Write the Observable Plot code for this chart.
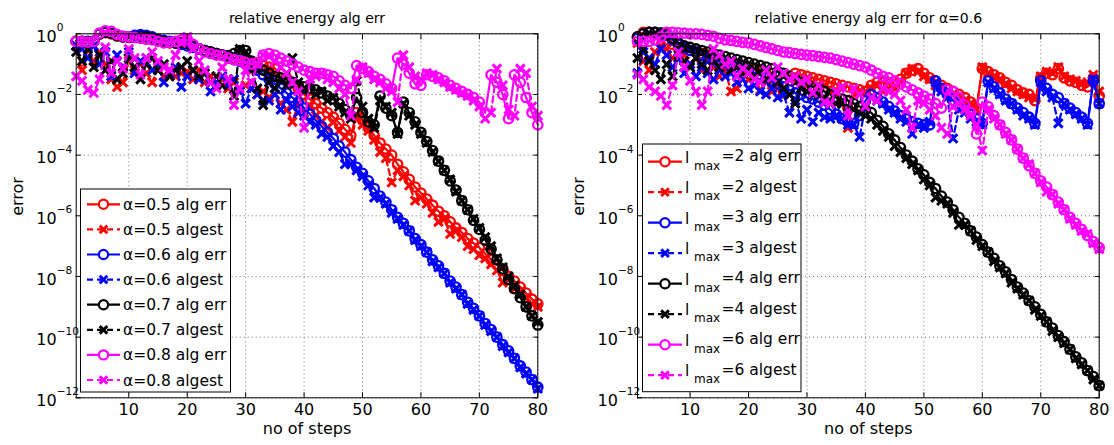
<!DOCTYPE html>
<html><head><meta charset="utf-8">
<script src="https://cdn.jsdelivr.net/npm/d3@7"></script>
<script src="https://cdn.jsdelivr.net/npm/@observablehq/plot@0.6"></script>
<style>
body{margin:0;background:#fff;}
#wrap{display:flex;width:1114px;height:445px;overflow:hidden;}
</style></head><body><div id="wrap"></div>
<script>
// x: step number 1..80 ; y values stored as log10(error)
const steps = d3.range(1, 81);
const xTicks = [10,20,30,40,50,60,70,80];
const yTickExps = [0,-2,-4,-6,-8,-10,-12];

// ---------- left panel: alpha = 0.5 .. 0.8 ----------
const leftLabels = ["α=0.5 alg err","α=0.5 algest","α=0.6 alg err","α=0.6 algest","α=0.7 alg err","α=0.7 algest","α=0.8 alg err","α=0.8 algest"];
const L_err05 = [-0.25,-0.25,-0.27,-0.26,0.0,0.05,0.0,-0.08,-0.1,-0.12,
 -0.1,-0.1,-0.08,-0.15,-0.2,-0.25,-0.3,-0.3,-0.28,-0.3,
 -0.4,-0.5,-0.55,-0.6,-0.65,-0.7,-0.75,-0.8,-0.85,-0.9,
 -0.95,-1.0,-1.05,-1.1,-1.15,-1.3,-1.45,-1.6,-1.8,-2.0,
 -2.15,-2.3,-2.45,-2.6,-2.75,-2.95,-3.15,-3.35,-2.6,-2.85,
 -3.1,-3.35,-3.6,-3.8,-4.0,-4.3,-4.55,-4.8,-5.05,-5.25,
 -5.45,-5.65,-5.85,-6.0,-6.2,-6.4,-6.55,-6.75,-6.9,-7.05,
 -7.25,-7.45,-7.6,-7.8,-8.0,-8.15,-8.35,-8.55,-8.75,-8.9];
const L_est05 = [-0.4,-1.2,-0.5,-0.9,-0.6,-1.0,-1.5,-1.75,-1.6,-0.9,
 -1.2,-1.0,-1.3,-1.6,-1.1,-1.4,-1.2,-1.4,-1.3,-1.25,
 -1.5,-1.2,-1.6,-1.4,-1.7,-1.5,-1.8,-1.6,-1.9,-1.7,
 -1.8,-2.0,-1.9,-2.1,-2.0,-2.3,-2.5,-2.9,-2.3,-2.6,
 -2.4,-2.7,-2.9,-3.1,-2.9,-3.2,-3.4,-3.6,-2.7,-3.0,
 -3.2,-3.5,-3.9,-4.1,-4.9,-4.5,-4.7,-5.0,-5.5,-5.4,
 -5.6,-5.9,-6.2,-6.1,-6.6,-6.5,-6.7,-7.0,-7.1,-7.3,
 -7.4,-7.6,-7.8,-8.2,-8.1,-8.4,-8.5,-8.7,-8.9,-9.0];
const L_err06 = [-0.25,-0.26,-0.25,-0.24,0.0,0.05,0.03,-0.05,-0.08,-0.1,
 -0.05,-0.03,-0.05,-0.1,-0.18,-0.22,-0.25,-0.3,-0.35,-0.4,
 -0.45,-0.5,-0.55,-0.6,-0.65,-0.7,-0.75,-0.85,-0.9,-1.0,
 -1.1,-1.2,-1.35,-1.5,-1.65,-1.8,-1.95,-2.1,-2.25,-2.45,
 -2.65,-2.85,-3.05,-3.25,-3.45,-3.7,-3.9,-4.15,-4.4,-4.6,
 -4.85,-5.1,-5.35,-5.55,-5.8,-6.05,-6.25,-6.5,-6.75,-6.95,
 -7.2,-7.45,-7.65,-7.9,-8.15,-8.35,-8.6,-8.85,-9.05,-9.3,
 -9.55,-9.75,-10.0,-10.25,-10.45,-10.7,-10.95,-11.15,-11.4,-11.65];
const L_est06 = [-0.4,-0.5,-0.8,-0.4,-1.0,-0.6,-1.4,-0.7,-1.1,-0.6,
 -1.3,-0.9,-0.8,-1.2,-1.0,-1.6,-1.3,-1.1,-1.75,-1.4,
 -1.2,-1.5,-1.3,-1.9,-1.6,-1.4,-1.7,-1.5,-1.9,-2.3,
 -1.8,-2.0,-2.2,-2.2,-2.0,-2.5,-2.2,-2.4,-2.6,-2.7,
 -2.9,-3.0,-3.3,-3.4,-3.7,-3.9,-4.3,-4.3,-4.5,-4.7,
 -5.0,-5.4,-5.4,-5.6,-5.9,-6.1,-6.3,-6.5,-6.8,-7.0,
 -7.2,-7.5,-7.7,-7.9,-8.2,-8.4,-8.6,-8.9,-9.1,-9.3,
 -9.6,-9.8,-10.0,-10.3,-10.5,-10.7,-11.0,-11.2,-11.4,-11.7];
const L_err07 = [-0.25,-0.25,-0.26,-0.25,0.0,0.05,0.02,-0.05,-0.1,-0.12,
 -0.12,-0.1,-0.1,-0.15,-0.2,-0.25,-0.28,-0.3,-0.3,-0.32,
 -0.4,-0.5,-0.55,-0.6,-0.65,-0.7,-0.72,-0.65,-0.55,-0.55,
 -0.9,-1.1,-1.2,-1.3,-1.4,-1.45,-1.5,-1.6,-1.7,-1.75,
 -1.8,-1.85,-1.95,-2.05,-2.15,-2.3,-2.5,-2.7,-2.1,-2.6,
 -2.9,-3.0,-2.05,-2.45,-2.7,-3.25,-2.25,-2.6,-2.9,-3.25,
 -3.55,-3.85,-4.2,-4.5,-4.85,-5.15,-5.5,-5.8,-6.15,-6.45,
 -6.8,-7.1,-7.45,-7.75,-8.1,-8.4,-8.7,-9.0,-9.3,-9.6];
const L_est07 = [-0.6,-0.9,-0.5,-1.1,-0.7,-1.2,-0.9,-1.5,-1.3,-0.8,
 -1.1,-1.5,-1.0,-0.8,-1.2,-1.0,-1.4,-1.2,-1.1,-0.9,
 -1.2,-1.4,-1.3,-1.6,-1.4,-1.7,-1.5,-2.05,-0.5,-0.6,
 -1.2,-1.8,-2.35,-1.6,-1.8,-1.5,-1.7,-0.8,-1.6,-1.9,
 -1.7,-2.0,-1.9,-2.2,-2.1,-2.4,-2.6,-2.8,-1.55,-2.4,
 -2.8,-3.1,-2.2,-2.4,-2.6,-3.3,-2.3,-2.7,-3.0,-3.3,
 -3.6,-3.9,-4.2,-4.5,-4.8,-5.2,-5.5,-5.8,-6.1,-6.4,
 -6.7,-7.0,-7.4,-7.7,-8.0,-8.3,-8.6,-9.0,-9.3,-9.5];
const L_err08 = [-0.25,-0.26,-0.27,-0.25,0.02,0.1,0.08,-0.02,-0.08,-0.1,
 -0.12,-0.15,-0.18,-0.2,-0.25,-0.3,-0.28,-0.25,-0.2,-0.18,
 -0.35,-0.5,-0.6,-0.65,-0.7,-0.72,-0.8,-0.85,-0.88,-0.95,
 -1.0,-0.95,-0.7,-0.65,-0.7,-0.8,-0.9,-1.0,-1.1,-1.2,
 -1.25,-1.3,-1.3,-1.35,-1.4,-1.55,-1.7,-1.8,-1.05,-1.15,
 -1.25,-1.4,-1.5,-1.65,-1.8,-0.8,-1.0,-1.3,-1.65,-1.7,
 -1.35,-1.4,-1.45,-1.55,-1.7,-1.8,-1.9,-2.0,-2.1,-2.25,
 -2.6,-1.35,-1.6,-2.0,-2.8,-1.35,-1.6,-2.1,-2.6,-3.0];
const L_est08 = [-1.4,-1.55,-1.85,-1.95,-1.5,-0.45,-1.3,-0.9,-1.15,-0.5,
 -0.8,-1.35,-0.8,-0.6,-0.9,-1.1,-1.2,-0.7,-0.3,-0.1,
 -0.5,-0.9,-1.2,-1.6,-1.8,-1.1,-1.5,-2.35,-1.8,-1.2,
 -1.6,-1.0,-0.7,-0.75,-0.9,-1.1,-1.3,-1.6,-1.9,-3.1,
 -1.5,-1.4,-1.3,-1.5,-1.6,-1.8,-2.0,-2.7,-1.5,-1.1,
 -1.3,-1.5,-1.6,-1.8,-1.9,-2.25,-0.7,-1.1,-1.4,-1.5,
 -1.3,-1.35,-1.5,-1.6,-1.75,-1.85,-1.95,-2.05,-2.2,-2.4,
 -2.8,-2.6,-1.15,-1.7,-2.5,-2.7,-1.15,-1.3,-2.4,-2.7];

// ---------- right panel: alpha = 0.6, l_max = 2,3,4,6 ----------
const rightLevels = ["2","2","3","3","4","4","6","6"];
const rightKinds = ["alg err","algest","alg err","algest","alg err","algest","alg err","algest"];
const R_err2 = [-0.1,0.05,0.05,0.03,-0.05,-0.2,-0.35,-0.45,-0.5,-0.55,
 -0.6,-0.65,-0.7,-0.8,-0.85,-0.9,-0.95,-1.0,-1.05,-1.1,
 -1.15,-1.2,-1.3,-1.45,-1.7,-1.95,-1.4,-1.3,-1.35,-1.4,
 -1.45,-1.5,-1.55,-1.6,-1.65,-1.7,-1.75,-1.8,-1.85,-1.9,
 -1.7,-1.6,-1.6,-1.65,-1.7,-1.5,-1.3,-1.2,-1.15,-1.3,
 -1.45,-1.55,-1.7,-1.8,-1.9,-2.0,-2.1,-2.25,-2.45,-1.15,
 -1.25,-1.35,-1.45,-1.6,-1.7,-1.85,-1.95,-2.0,-2.2,-1.45,
 -1.3,-1.35,-1.15,-1.45,-1.55,-1.6,-1.7,-1.75,-1.45,-2.05];
const R_est2 = [-0.3,-0.9,-1.2,-0.6,-0.4,-0.5,-0.8,-0.6,-0.7,-1.0,
 -0.8,-1.2,-0.9,-1.1,-1.4,-1.2,-1.9,-1.8,-1.3,-1.5,
 -1.4,-1.85,-1.6,-1.9,-1.8,-2.0,-1.5,-1.6,-1.5,-1.7,
 -1.6,-1.8,-1.7,-1.9,-2.0,-2.3,-3.1,-2.0,-1.9,-2.0,
 -1.8,-1.7,-1.9,-1.8,-1.75,-1.6,-1.3,-1.15,-1.25,-1.4,
 -1.5,-1.7,-1.75,-1.9,-2.0,-2.1,-2.2,-2.3,-2.5,-1.1,
 -1.3,-1.4,-1.5,-1.65,-1.8,-1.9,-2.0,-2.1,-2.15,-1.4,
 -1.25,-1.3,-1.1,-1.4,-1.5,-1.55,-1.65,-1.6,-1.35,-1.9];
const R_err3 = [-0.15,0.0,0.05,0.05,0.0,-0.05,-0.2,-0.35,-0.45,-0.55,
 -0.6,-0.7,-0.8,-0.85,-0.9,-0.95,-1.0,-1.1,-1.15,-1.2,
 -1.3,-1.35,-1.45,-1.55,-1.65,-1.75,-1.85,-1.95,-2.0,-2.1,
 -2.15,-2.25,-2.35,-2.5,-2.65,-2.8,-2.9,-2.95,-2.7,-2.2,
 -2.0,-2.1,-2.25,-2.4,-2.55,-2.7,-2.8,-2.9,-2.95,-3.0,
 -3.0,-1.55,-1.8,-2.0,-2.2,-2.35,-2.5,-2.65,-2.8,-2.95,
 -1.55,-1.75,-1.95,-2.15,-2.3,-2.45,-2.6,-2.75,-2.95,-1.55,
 -1.8,-2.0,-2.1,-2.3,-2.45,-2.6,-2.75,-2.95,-1.55,-2.3];
const R_est3 = [-1.3,-0.6,-0.8,-1.0,-0.5,-0.7,-1.1,-0.8,-1.3,-1.0,
 -1.4,-1.1,-1.3,-1.5,-1.2,-1.4,-1.3,-1.6,-1.5,-1.8,
 -1.7,-1.9,-2.0,-1.8,-2.1,-2.0,-2.6,-2.2,-2.8,-2.5,
 -2.9,-2.6,-2.75,-2.8,-2.7,-2.8,-3.0,-3.0,-3.4,-2.4,
 -2.1,-2.2,-2.3,-2.5,-2.6,-2.8,-2.9,-3.3,-3.0,-3.1,
 -2.9,-1.6,-1.9,-2.1,-3.45,-2.5,-2.6,-2.8,-2.9,-3.0,
 -1.6,-1.8,-2.0,-2.2,-2.3,-2.5,-2.7,-2.8,-3.0,-1.6,
 -1.9,-2.1,-2.95,-2.3,-2.5,-2.65,-2.8,-3.0,-1.5,-2.3];
const R_err4 = [-0.1,0.0,0.05,0.05,0.03,0.0,-0.15,-0.3,-0.4,-0.45,
 -0.5,-0.55,-0.6,-0.65,-0.7,-0.75,-0.8,-0.85,-0.9,-0.95,
 -1.0,-1.05,-1.1,-1.15,-1.25,-1.3,-1.4,-1.5,-1.6,-1.7,
 -1.75,-1.8,-1.9,-2.0,-2.1,-2.15,-2.2,-2.3,-2.4,-2.5,
 -2.6,-2.85,-3.05,-3.3,-3.5,-3.75,-4.0,-4.2,-4.45,-4.65,
 -4.9,-5.1,-5.35,-5.55,-5.8,-6.05,-6.25,-6.5,-6.7,-6.95,
 -7.2,-7.4,-7.65,-7.85,-8.1,-8.35,-8.55,-8.8,-9.0,-9.25,
 -9.5,-9.7,-9.95,-10.15,-10.4,-10.65,-10.85,-11.1,-11.3,-11.6];
const R_est4 = [-0.8,-0.5,-0.9,-1.2,-1.5,-1.0,-1.4,-0.7,-0.9,-1.1,
 -0.8,-1.0,-1.2,-0.9,-1.1,-1.0,-1.2,-1.1,-1.3,-1.2,
 -1.4,-1.3,-1.5,-1.4,-1.6,-1.8,-2.0,-2.3,-1.8,-1.9,
 -2.0,-2.0,-2.1,-2.2,-2.3,-2.3,-2.4,-2.5,-2.6,-2.7,
 -2.8,-3.0,-3.2,-3.4,-3.7,-3.9,-4.1,-4.3,-4.5,-4.8,
 -5.0,-5.4,-5.5,-5.6,-5.9,-6.3,-6.3,-6.5,-6.8,-7.0,
 -7.2,-7.5,-7.7,-7.9,-8.2,-8.4,-8.6,-8.8,-9.1,-9.3,
 -9.5,-9.8,-10.0,-10.2,-10.4,-10.7,-10.9,-11.1,-11.4,-11.6];
const R_err6 = [-0.25,-0.25,-0.25,-0.2,-0.1,0.05,0.05,0.03,0.02,0.0,
 0.0,-0.02,-0.05,-0.08,-0.15,-0.2,-0.22,-0.25,-0.28,-0.3,
 -0.35,-0.4,-0.45,-0.5,-0.55,-0.6,-0.62,-0.65,-0.68,-0.7,
 -0.72,-0.75,-0.78,-0.8,-0.85,-0.9,-0.95,-1.0,-1.05,-1.1,
 -1.2,-1.3,-1.4,-1.45,-1.55,-1.65,-1.75,-1.85,-1.95,-2.05,
 -2.15,-2.3,-2.45,-1.85,-1.9,-2.1,-2.35,-2.6,-3.3,-2.25,
 -2.4,-2.7,-3.0,-3.25,-3.5,-3.8,-4.1,-4.35,-4.6,-4.85,
 -5.05,-5.3,-5.55,-5.8,-6.05,-6.25,-6.45,-6.65,-6.85,-7.05];
const R_est6 = [-1.35,-1.5,-1.75,-1.9,-2.05,-2.35,-1.7,-0.6,-1.1,-1.55,
 -1.9,-2.35,-1.9,-0.5,-0.7,-1.0,-0.9,-1.4,-1.15,-1.3,
 -1.5,-1.6,-1.2,-1.45,-1.1,-1.3,-1.5,-1.4,-1.6,-1.5,
 -1.95,-1.7,-2.25,-2.3,-1.9,-1.75,-2.7,-1.8,-2.0,-2.4,
 -2.1,-2.2,-1.8,-1.9,-2.0,-2.2,-2.5,-3.1,-2.2,-2.3,
 -2.5,-2.7,-3.1,-3.3,-2.4,-2.3,-2.5,-2.7,-3.0,-3.85,
 -2.5,-2.8,-3.0,-3.3,-3.5,-3.8,-4.1,-4.3,-4.6,-4.9,
 -5.2,-5.3,-5.6,-5.8,-6.1,-6.3,-6.5,-6.6,-6.9,-7.1];

const seriesColors = ["#ff0000","#ff0000","#0000ff","#0000ff","#000000","#000000","#ff00ff","#ff00ff"];
const FONT = "DejaVu Sans";

function panel(cfg) {
  const yTickVals = yTickExps.map(e => Math.pow(10, e));
  const marks = [
    Plot.gridX(xTicks, {stroke: "#000", strokeOpacity: 0.55, strokeDasharray: "1,3"}),
    Plot.gridY(yTickVals, {stroke: "#000", strokeOpacity: 0.55, strokeDasharray: "1,3"})
  ];
  cfg.values.forEach((vals, k) => {
    const dashed = k % 2 === 1;
    const rows = vals.map((v, i) => ({step: steps[i], err: Math.pow(10, v)}));
    marks.push(Plot.line(rows, {x: "step", y: "err", stroke: seriesColors[k], strokeWidth: 2.2,
      strokeDasharray: dashed ? "6,4" : undefined}));
    marks.push(Plot.dot(rows, {x: "step", y: "err", stroke: seriesColors[k], fill: "none",
      symbol: dashed ? "times" : "circle", r: dashed ? 4.0 : 4.7, strokeWidth: dashed ? 3 : 2.3}));
  });
  marks.push(
    Plot.frame({stroke: "#000", strokeWidth: 1}),
    Plot.axisX(xTicks, {anchor: "bottom", tickSize: -5, tickPadding: 11, fontSize: 16, label: null}),
    Plot.axisX(xTicks, {anchor: "top", tickSize: -5, tickFormat: () => "", label: null}),
    Plot.axisY(yTickVals, {anchor: "left", tickSize: -5, tickFormat: () => "", label: null}),
    Plot.axisY(yTickVals, {anchor: "right", tickSize: -5, tickFormat: () => "", label: null}),
    Plot.text(yTickExps, {y: e => Math.pow(10, e), text: () => "10", frameAnchor: "left",
      textAnchor: "start", dx: cfg.tickDx, dy: 3, fontSize: 16}),
    Plot.text(yTickExps, {y: e => Math.pow(10, e), text: e => e === 0 ? "0" : "−" + (-e), frameAnchor: "left",
      textAnchor: "start", dx: cfg.tickDx + 20.5, dy: -6, fontSize: 10.5}),
    Plot.text([cfg.title], {frameAnchor: "top", dy: -21, fontSize: 14}),
    Plot.text(["no of steps"], {frameAnchor: "bottom", dy: 36, fontSize: 16}),
    Plot.text(["error"], {frameAnchor: "left", dx: cfg.ylabDx, rotate: -90, fontSize: 16})
  );
  return Plot.plot({
    width: 557, height: 445,
    marginLeft: cfg.ml, marginRight: cfg.mr, marginTop: 33.3, marginBottom: 47.7,
    x: {domain: [1, 80]},
    y: {type: "log", domain: [1e-12, 1]},
    style: {fontFamily: FONT, background: "#fff", overflow: "visible", color: "#000"},
    marks
  });
}

function addLegend(svg, L) {
  const g = d3.select(svg).append("g").attr("font-family", FONT).attr("text-anchor", "start").attr("fill", "#000");
  g.append("rect").attr("x", L.x).attr("y", L.y).attr("width", L.w).attr("height", L.h)
    .attr("fill", "#fff").attr("stroke", "#000").attr("stroke-width", 1);
  for (let k = 0; k < 8; k++) {
    const dashed = k % 2 === 1;
    const yy = L.y0 + k * L.dy;
    const c = seriesColors[k];
    g.append("line").attr("x1", L.sx1).attr("x2", L.sx2).attr("y1", yy).attr("y2", yy)
      .attr("stroke", c).attr("stroke-width", 2.2).attr("stroke-dasharray", dashed ? "6,4" : null);
    const mx = (L.sx1 + L.sx2) / 2;
    if (dashed) {
      g.append("path").attr("d", `M${mx-3.8},${yy-3.8}L${mx+3.8},${yy+3.8}M${mx-3.8},${yy+3.8}L${mx+3.8},${yy-3.8}`)
        .attr("stroke", c).attr("stroke-width", 3).attr("fill", "none");
    } else {
      g.append("circle").attr("cx", mx).attr("cy", yy).attr("r", 4.6).attr("fill", "#fff")
        .attr("stroke", c).attr("stroke-width", 2.2);
    }
    L.text(g, k, yy);
  }
}

const wrap = document.getElementById("wrap");

const left = panel({title: "relative energy alg err", values: [L_err05, L_est05, L_err06, L_est06, L_err07, L_est07, L_err08, L_est08],
  ml: 75.7, mr: 19.7, tickDx: -40, ylabDx: -58.7});
addLegend(left, {x: 80.5, y: 189, w: 150, h: 203, y0: 204.3, dy: 25.1, sx1: 87, sx2: 120,
  text: (g, k, yy) => g.append("text").attr("x", 123).attr("y", yy).attr("dy", "0.36em")
    .attr("font-size", 15.5).text(leftLabels[k])});
wrap.appendChild(left);

const right = panel({title: "relative energy alg err for α=0.6", values: [R_err2, R_est2, R_err3, R_est3, R_err4, R_est4, R_err6, R_est6],
  ml: 80, mr: 15.3, tickDx: -40, ylabDx: -59});
addLegend(right, {x: 85.5, y: 144, w: 158.5, h: 247.7, y0: 161.7, dy: 30.5, sx1: 91, sx2: 125,
  text: (g, k, yy) => {
    g.append("text").attr("x", 128).attr("y", yy + 1).attr("font-size", 15.5).text("l");
    g.append("text").attr("x", 137).attr("y", yy + 8).attr("font-size", 12).text("max");
    g.append("text").attr("x", 164.5).attr("y", yy - 0.5).attr("font-size", 15.5).text("=" + rightLevels[k] + " " + rightKinds[k]);
  }});
wrap.appendChild(right);
</script>
</body></html>
